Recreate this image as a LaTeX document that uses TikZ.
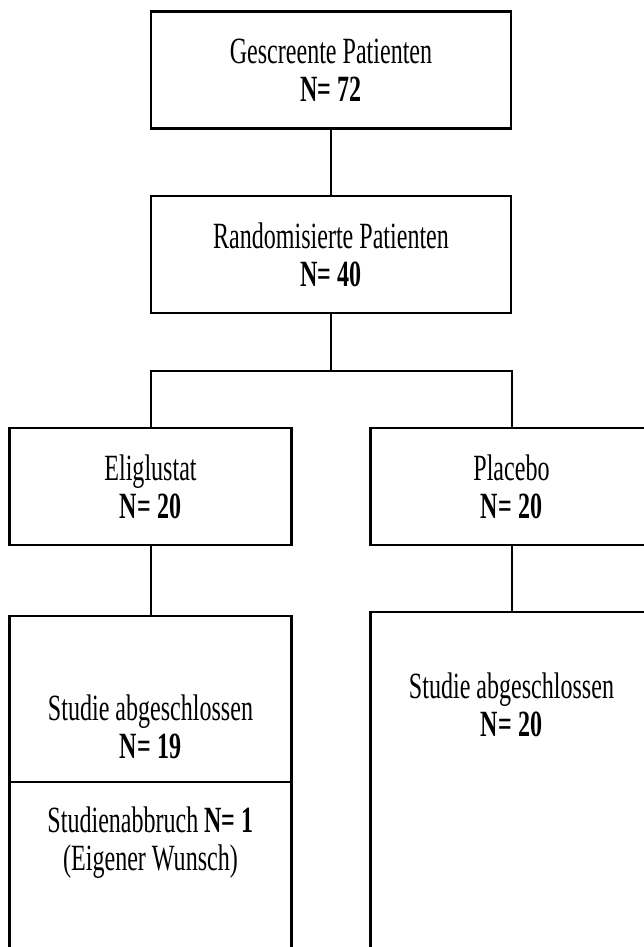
\documentclass[tikz,border=0pt]{standalone}
\usepackage{fontspec}
\setmainfont{Liberation Serif}[FakeStretch=0.65]
\usetikzlibrary{positioning}

\begin{document}
\begin{tikzpicture}[x=1pt,y=-1pt,
    box/.style={draw, line width=2.4pt, inner sep=0pt, minimum width=360pt, minimum height=117pt},
    arm/.style={box, minimum width=282pt},
    txt/.style={align=center, font=\fontsize{37}{38}\selectfont},
    link/.style={line width=2pt}]

          \useasboundingbox (0,0) rectangle (644,947);
          \clip (0,0) rectangle (644,947);

          \node[box, txt] (screen) at (331,70) {Gescreente Patienten\\\textbf{N= 72}};
          \node[box, txt] (random) at (331,254.5) {Randomisierte Patienten\\\textbf{N= 40}};
          \coordinate (split) at (331,371);

          \node[arm, txt] (elig) at (150.5,486.5) {Eliglustat\\\textbf{N= 20}};
          \node[arm, txt] (plac) at (511.5,486.5) {Placebo\\\textbf{N= 20}};

          \node[arm, minimum height=166pt] (doneE) at (150.5,699) {};
          \node[arm, minimum height=208pt] (dropE) at (150.5,886) {};
          \node[arm, minimum height=378pt] (doneP) at (511.5,801) {};

          \node[txt] (doneEtext) at (150.5,727) {Studie abgeschlossen\\\textbf{N= 19}};
          \node[txt] (dropEtext) at (150.5,843) {Studienabbruch \textbf{N= 1}\\(Eigener Wunsch)};
          \node[txt] (donePtext) at (511.5,705) {Studie abgeschlossen\\\textbf{N= 20}};

          \draw[link] (screen) -- (random);
          \draw[link] (random) -- (split);
          \draw[link] (split) -| (elig);
          \draw[link] (split) -| (plac);
          \draw[link] (elig) -- (doneE);
          \draw[link] (plac) -- (doneP);
        \end{tikzpicture}
\end{document}
